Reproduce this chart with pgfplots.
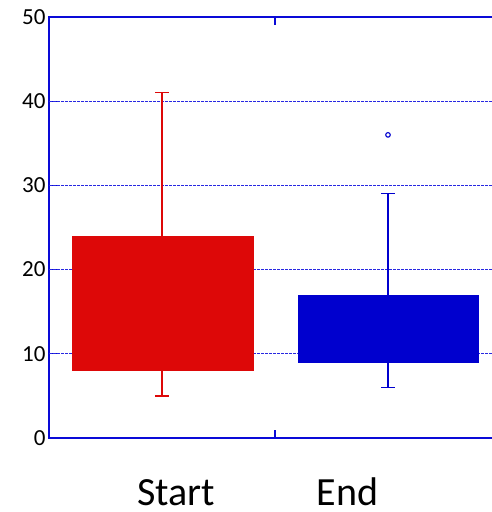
\documentclass[border=0pt]{standalone}
\usepackage{fontspec}
\setmainfont{Carlito}
\usepackage{pgfplots}
\pgfplotsset{compat=1.18}
\definecolor{boxred}{RGB}{221,8,8}
\definecolor{boxblue}{RGB}{0,0,206}
\definecolor{axblue}{RGB}{10,10,215}
\definecolor{gridblue}{RGB}{40,40,225}
\begin{document}
\begin{tikzpicture}
\begin{axis}[
 /pgf/number format/assume math mode=true,
 /pgfplots/.cd,
 scale only axis,
 width=452pt, height=421pt,
 xmin=0, xmax=2, ymin=0, ymax=50,
 xtick={1}, xticklabels={},
 ytick={0,10,...,50},
 ytick pos=left,
 tick align=inside,
 major tick length=8pt,
 tick style={axblue, line width=1.2pt},
 axis line style={axblue, line width=1.2pt},
 yticklabel style={font=\fontsize{23}{23}\selectfont},
 clip=false,
]
\coordinate (O) at (rel axis cs:0,0);
% horizontal grid lines
\addplot[gridblue, dash pattern=on 3pt off 1pt, line width=1pt] coordinates {(0,10) (2,10)};
\addplot[gridblue, dash pattern=on 3pt off 1pt, line width=1pt] coordinates {(0,20) (2,20)};
\addplot[gridblue, dash pattern=on 3pt off 1pt, line width=1pt] coordinates {(0,30) (2,30)};
\addplot[gridblue, dash pattern=on 3pt off 1pt, line width=1pt] coordinates {(0,40) (2,40)};
% Start: box 8-24, whiskers 5-41
\addplot[fill=boxred, draw=boxred, line width=0.5pt] coordinates {(0.102,8) (0.903,8) (0.903,24) (0.102,24)} -- cycle;
\addplot[boxred, line width=1.2pt] coordinates {(0.5,24) (0.5,41)};
\addplot[boxred, line width=1.2pt] coordinates {(0.5,8) (0.5,5)};
\addplot[boxred, line width=1.2pt] coordinates {(0.47,41) (0.53,41)};
\addplot[boxred, line width=1.2pt] coordinates {(0.47,5) (0.53,5)};
% End: box 9-17, whiskers 6-29, outlier 36
\addplot[fill=boxblue, draw=boxblue, line width=0.5pt] coordinates {(1.102,9) (1.898,9) (1.898,17) (1.102,17)} -- cycle;
\addplot[boxblue, line width=1.2pt] coordinates {(1.5,17) (1.5,29)};
\addplot[boxblue, line width=1.2pt] coordinates {(1.5,9) (1.5,6)};
\addplot[boxblue, line width=1.2pt] coordinates {(1.47,29) (1.53,29)};
\addplot[boxblue, line width=1.2pt] coordinates {(1.47,6) (1.53,6)};
\addplot[only marks, mark=o, mark size=2.3pt, mark options={draw=boxblue, line width=1.1pt}] coordinates {(1.5,36)};
\node[anchor=base, font=\fontsize{40}{40}\selectfont] at ([yshift=-67pt]axis cs:0.562,0) {Start};
\node[anchor=base, font=\fontsize{40}{40}\selectfont] at ([yshift=-67pt]axis cs:1.321,0) {End};
\end{axis}
\pgfresetboundingbox
\path (O) ++(-49pt,-74pt) rectangle ++(491pt,512pt);
\end{tikzpicture}
\end{document}
